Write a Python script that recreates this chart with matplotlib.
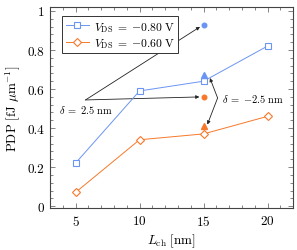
import matplotlib
matplotlib.use("Agg")
import matplotlib.pyplot as plt
from matplotlib.ticker import MultipleLocator

plt.rcParams['font.family'] = 'serif'
plt.rcParams['font.serif'] = ['cmr10']
plt.rcParams['mathtext.fontset'] = 'cm'
plt.rcParams['axes.formatter.use_mathtext'] = True

L_ch = [5, 10, 15, 20]
pdp_080 = [0.22, 0.59, 0.64, 0.82]
pdp_060 = [0.07, 0.34, 0.37, 0.46]
delta_pos_x = [15]
delta_pos_080 = [0.93]
delta_pos_060 = [0.56]
delta_neg_080 = [0.67]
delta_neg_060 = [0.41]

blue = '#6b95f2'
orange = '#f7782a'

fig = plt.figure(figsize=(2.97, 2.51), dpi=100)
ax = fig.add_axes([0.168, 0.167, 0.819, 0.801])

ax.plot(L_ch, pdp_080, color=blue, lw=0.7, marker='s', ms=4.3, mfc='white', mec=blue, mew=0.8,
        label=r'$V_\mathrm{DS}\;=\;{-}0.80\ \mathrm{V}$', zorder=3)
ax.plot(L_ch, pdp_060, color=orange, lw=0.7, marker='D', ms=3.6, mfc='white', mec=orange, mew=0.8,
        label=r'$V_\mathrm{DS}\;=\;{-}0.60\ \mathrm{V}$', zorder=3)
ax.plot(delta_pos_x, delta_pos_080, 'o', color=blue, ms=3.3, zorder=4)
ax.plot(delta_pos_x, delta_pos_060, 'o', color=orange, ms=3.3, zorder=4)
ax.plot(delta_pos_x, delta_neg_080, '^', color=blue, ms=4, zorder=4)
ax.plot(delta_pos_x, delta_neg_060, '^', color=orange, ms=4, zorder=4)

ap = dict(arrowstyle='-|>', color='#222222', lw=0.6, mutation_scale=5, shrinkA=0, shrinkB=3)
start = (5.78, 0.544)
ax.annotate('', xy=(15, 0.93), xytext=start, arrowprops=ap, zorder=2)
ax.annotate('', xy=(15, 0.56), xytext=start, arrowprops=ap, zorder=2)
ax.text(5.8, 0.497, r'$\delta\;=\;2.5\ \mathrm{nm}$', fontsize=7.5, ha='center', va='center')

brace = (16.1, 0.554)
ap2 = dict(arrowstyle='-|>', color='#222222', lw=0.6, mutation_scale=5, shrinkA=0, shrinkB=0)
ax.annotate('', xy=(15.5, 0.656), xytext=brace, arrowprops=ap2)
ax.annotate('', xy=(15.3, 0.418), xytext=brace, arrowprops=ap2)
ax.text(16.45, 0.554, r'$\delta\;=\;{-}2.5\ \mathrm{nm}$', fontsize=7.5, ha='left', va='center')

ax.set_xlim(3.0, 22.0)
ax.set_ylim(-0.01, 1.02)
ax.xaxis.set_major_locator(MultipleLocator(5))
ax.xaxis.set_minor_locator(MultipleLocator(1))
ax.yaxis.set_minor_locator(MultipleLocator(0.04))
ax.set_yticks([0, 0.2, 0.4, 0.6, 0.8, 1])
ax.set_yticklabels(['0', '0.2', '0.4', '0.6', '0.8', '1'])
ax.tick_params(which='both', direction='in', top=True, right=True, labelsize=9.5, width=0.5,
               colors='#555555', labelcolor='black')
ax.tick_params(which='major', length=3.5, pad=4)
ax.tick_params(which='minor', length=2)
for s in ax.spines.values():
    s.set_linewidth(0.8)
    s.set_color('#444444')

ax.set_xlabel(r'$L_\mathrm{ch}\ [\mathrm{nm}]$', fontsize=9.5, labelpad=3)
ax.set_ylabel(r'$\mathrm{PDP}\ [\mathrm{fJ}\ \mathrm{\mu m}^{-1}]$', fontsize=9.5, labelpad=4)

leg = ax.legend(loc='upper left', bbox_to_anchor=(0.05, 0.955), fontsize=8.4, frameon=True, fancybox=False,
                edgecolor='#333333', framealpha=1, handlelength=2.0, handletextpad=0.4,
                borderpad=0.3, labelspacing=0.2, borderaxespad=0)
leg.get_frame().set_linewidth(0.7)
leg.set_zorder(5)

fig.savefig('out.png', dpi=100)
